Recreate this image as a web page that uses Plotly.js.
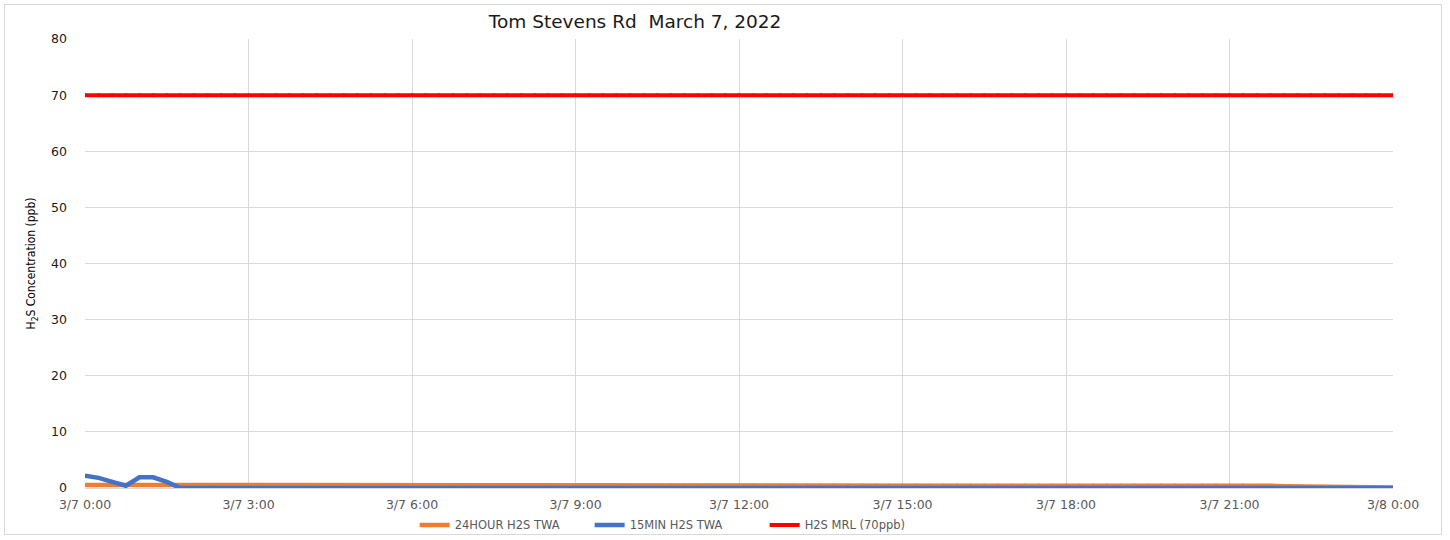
<!DOCTYPE html>
<html>
<head>
<meta charset="utf-8">
<script src="https://cdn.plot.ly/plotly-3.0.1.min.js"></script>
<style>
  html, body { margin: 0; padding: 0; background: #ffffff; }
  #frame { position: absolute; left: 4px; top: 4px; width: 1438px; height: 531px; border: 1px solid #d9d9d9; box-sizing: border-box; }
  #chart { position: absolute; left: 0; top: 0; width: 1450px; height: 540px; }
</style>
</head>
<body>
<div id="frame"></div>
<div id="chart"></div>
<script>
// Sampling: 15-minute readings from 3/7 0:00 to 3/8 0:00 (97 readings)
const startTime = "2022-03-07T00:00:00";
const stepMinutes = 15;

const seriesNames = ["24HOUR H2S TWA", "15MIN H2S TWA", "H2S MRL (70ppb)"];

const twa24 = [
  0.55, 0.55, 0.55, 0.55, 0.55, 0.55, 0.55, 0.55, 0.55, 0.53, 0.50, 0.47,
  0.45, 0.45, 0.45, 0.45, 0.45, 0.45, 0.45, 0.45, 0.45, 0.45, 0.45, 0.45,
  0.45, 0.45, 0.45, 0.45, 0.45, 0.45, 0.45, 0.45, 0.45, 0.45, 0.45, 0.45,
  0.45, 0.45, 0.45, 0.45, 0.45, 0.45, 0.45, 0.45, 0.45, 0.45, 0.45, 0.45,
  0.45, 0.45, 0.45, 0.45, 0.45, 0.45, 0.45, 0.45, 0.45, 0.45, 0.45, 0.45,
  0.45, 0.45, 0.45, 0.45, 0.45, 0.45, 0.45, 0.45, 0.45, 0.45, 0.45, 0.45,
  0.45, 0.45, 0.45, 0.45, 0.45, 0.45, 0.45, 0.45, 0.45, 0.45, 0.45, 0.45,
  0.45, 0.45, 0.42, 0.38, 0.33, 0.28, 0.22, 0.17, 0.14, 0.12, 0.11, 0.10,
  0.10
];

const twa15 = [
  2.2, 1.8, 1.1, 0.4, 1.9, 1.9, 1.1, 0.0, 0.0, 0.0, 0.0, 0.0,
  0.0, 0.0, 0.0, 0.0, 0.0, 0.0, 0.0, 0.0, 0.0, 0.0, 0.0, 0.0,
  0.0, 0.0, 0.0, 0.0, 0.0, 0.0, 0.0, 0.0, 0.0, 0.0, 0.0, 0.0,
  0.0, 0.0, 0.0, 0.0, 0.0, 0.0, 0.0, 0.0, 0.0, 0.0, 0.0, 0.0,
  0.0, 0.0, 0.0, 0.0, 0.0, 0.0, 0.0, 0.0, 0.0, 0.0, 0.0, 0.0,
  0.0, 0.0, 0.0, 0.0, 0.0, 0.0, 0.0, 0.0, 0.0, 0.0, 0.0, 0.0,
  0.0, 0.0, 0.0, 0.0, 0.0, 0.0, 0.0, 0.0, 0.0, 0.0, 0.0, 0.0,
  0.0, 0.0, 0.0, 0.0, 0.0, 0.0, 0.0, 0.0, 0.0, 0.0, 0.0, 0.0,
  0.0
];

const mrl = [
  70, 70, 70, 70, 70, 70, 70, 70, 70, 70, 70, 70,
  70, 70, 70, 70, 70, 70, 70, 70, 70, 70, 70, 70,
  70, 70, 70, 70, 70, 70, 70, 70, 70, 70, 70, 70,
  70, 70, 70, 70, 70, 70, 70, 70, 70, 70, 70, 70,
  70, 70, 70, 70, 70, 70, 70, 70, 70, 70, 70, 70,
  70, 70, 70, 70, 70, 70, 70, 70, 70, 70, 70, 70,
  70, 70, 70, 70, 70, 70, 70, 70, 70, 70, 70, 70,
  70, 70, 70, 70, 70, 70, 70, 70, 70, 70, 70, 70,
  70
];

const yTickVals = [0, 10, 20, 30, 40, 50, 60, 70, 80];
const xTickLabels = ["3/7 0:00", "3/7 3:00", "3/7 6:00", "3/7 9:00", "3/7 12:00",
                     "3/7 15:00", "3/7 18:00", "3/7 21:00", "3/8 0:00"];

function pad(n) { return (n < 10 ? "0" : "") + n; }
function fmt(d) {
  return d.getFullYear() + "-" + pad(d.getMonth() + 1) + "-" + pad(d.getDate()) +
         " " + pad(d.getHours()) + ":" + pad(d.getMinutes());
}
const t0 = new Date(startTime);
const times = twa15.map((_, i) => fmt(new Date(t0.getTime() + i * stepMinutes * 60000)));
const xTickVals = xTickLabels.map((_, i) => fmt(new Date(t0.getTime() + i * 3 * 3600000)));

const traces = [
  { x: times, y: twa24, name: seriesNames[0], type: "scatter", mode: "lines+markers",
    line: { color: "#ED7D31", width: 4.5 }, marker: { color: "#ED7D31", size: 4 } },
  { x: times, y: twa15, name: seriesNames[1], type: "scatter", mode: "lines+markers",
    line: { color: "#4472C4", width: 4.5 }, marker: { color: "#4472C4", size: 4 } },
  { x: times, y: mrl, name: seriesNames[2], type: "scatter", mode: "lines+markers",
    line: { color: "#FF0000", width: 4 }, marker: { color: "#FF0000", size: 4 } }
];

const layout = {
  width: 1450, height: 540,
  paper_bgcolor: "rgba(0,0,0,0)", plot_bgcolor: "rgba(0,0,0,0)",
  margin: { l: 85, r: 57, t: 39, b: 52, autoexpand: false },
  font: { family: "DejaVu Sans, sans-serif", color: "#595959" },
  title: { text: "Tom Stevens Rd\u00a0 March 7, 2022", x: 0.438, xref: "container", xanchor: "center",
           y: 0.961, yref: "container", yanchor: "middle",
           font: { family: "DejaVu Sans, sans-serif", size: 18.5, color: "#1a1a1a" } },
  xaxis: {
    type: "date",
    range: [xTickVals[0], xTickVals[xTickVals.length - 1]],
    tickmode: "array", tickvals: xTickVals, ticktext: xTickLabels,
    showgrid: true, gridcolor: "#d9d9d9", gridwidth: 1,
    showline: true, linecolor: "#d9d9d9", linewidth: 1,
    zeroline: false, ticks: "",
    tickfont: { size: 12.5, color: "#595959" },
    ticklabelstandoff: 5,
    automargin: false,
    fixedrange: true
  },
  yaxis: {
    range: [0, 80], tickmode: "array", tickvals: yTickVals,
    showgrid: true, gridcolor: "#d9d9d9", gridwidth: 1,
    zeroline: false, showline: false, ticks: "",
    tickfont: { size: 12.5, color: "#1a1a1a" },
    ticklabelstandoff: 17,
    automargin: false,
    title: { text: "H<sub>2</sub>S Concentration (ppb)", standoff: 12,
             font: { family: "Liberation Sans Narrow, DejaVu Sans Condensed, sans-serif", size: 12, color: "#000000" } },
    fixedrange: true
  },
  showlegend: true,
  legend: { orientation: "h", x: 0.467, xref: "container", xanchor: "center",
            y: 0.028, yref: "container", yanchor: "middle",
            entrywidth: 130,
            font: { size: 11.5, color: "#595959" }, bgcolor: "rgba(0,0,0,0)" }
};

Plotly.newPlot("chart", traces, layout, { displayModeBar: false, staticPlot: true });
</script>
</body>
</html>
